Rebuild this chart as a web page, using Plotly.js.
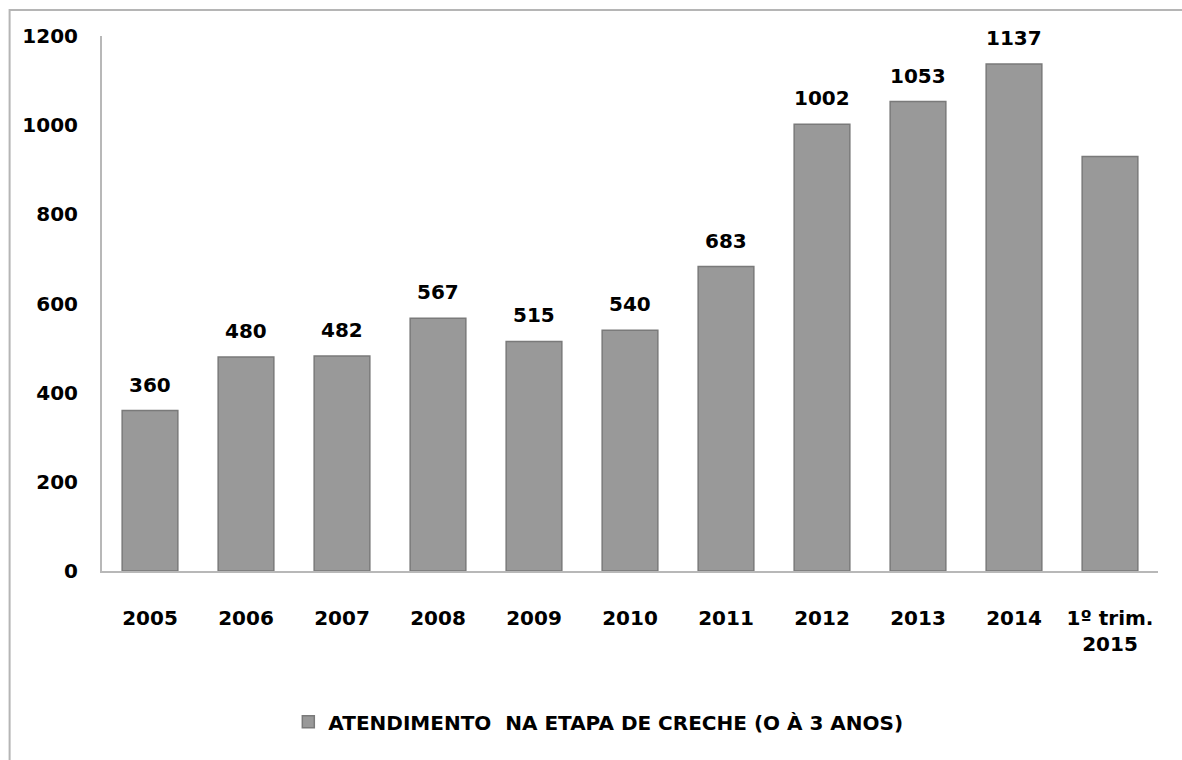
<!DOCTYPE html>
<html>
<head>
<meta charset="utf-8">
<script src="https://cdn.plot.ly/plotly-3.0.1.min.js"></script>
<style>html,body{margin:0;padding:0;background:#fff;}#chart{width:1182px;height:760px;}</style>
</head>
<body>
<div id="chart"></div>
<script>
const categories = ["2005","2006","2007","2008","2009","2010","2011","2012","2013","2014","1º trim.<br>2015"];
const values = [360,480,482,567,515,540,683,1002,1053,1137,930];
const labels = ["360","480","482","567","515","540","683","1002","1053","1137",""];
const seriesName = "ATENDIMENTO  NA ETAPA DE CRECHE (O À 3 ANOS)";
const yTicks = [0,200,400,600,800,1000,1200];

const FONT = "DejaVu Sans, sans-serif";

const trace = {
  type: "bar",
  x: categories,
  y: values,
  name: seriesName,
  marker: {color: "#999999", line: {color: "#7a7a7a", width: 1.5}},
  hoverinfo: "skip",
  showlegend: true
};

const annotations = categories.map((c, i) => ({
  x: i, y: values[i], xref: "x", yref: "y",
  text: labels[i], showarrow: false,
  yanchor: "bottom", yshift: 12,
  font: {family: FONT, size: 20, color: "#000", weight: "bold"}
})).filter(a => a.text !== "");

const layout = {
  width: 1182, height: 760,
  margin: {l: 102, r: 24, t: 36, b: 189},
  paper_bgcolor: "#fff", plot_bgcolor: "#fff",
  bargap: 0.42,
  font: {family: FONT, color: "#000"},
  xaxis: {
    type: "category",
    range: [-0.5, categories.length - 0.5],
    autorange: false,
    showline: true, linecolor: "#b8b8b8", linewidth: 2,
    showgrid: false, zeroline: false,
    ticks: "outside", ticklen: 28, tickcolor: "rgba(0,0,0,0)",
    tickfont: {family: FONT, size: 20, color: "#000", weight: "bold"}
  },
  yaxis: {
    range: [0, 1200],
    autorange: false,
    tickvals: yTicks,
    ticktext: yTicks.map(String),
    showline: true, linecolor: "#b8b8b8", linewidth: 2,
    showgrid: false, zeroline: false,
    ticks: "outside", ticklen: 18, tickcolor: "rgba(0,0,0,0)",
    tickfont: {family: FONT, size: 20, color: "#000", weight: "bold"}
  },
  legend: {
    orientation: "h", x: 0.47, xanchor: "center", y: -0.282, yanchor: "middle",
    font: {family: FONT, size: 20, color: "#000", weight: "bold"},
    itemclick: false
  },
  shapes: [{
    type: "rect", xref: "paper", yref: "paper",
    x0: -0.0875, x1: 1.2, y0: -0.6, y1: 1.0486,
    line: {color: "#b5b5b5", width: 2}, fillcolor: "rgba(0,0,0,0)", layer: "below"
  }],
  annotations: annotations,
  showlegend: true
};

Plotly.newPlot("chart", [trace], layout, {displayModeBar: false, staticPlot: true});
</script>
</body>
</html>
